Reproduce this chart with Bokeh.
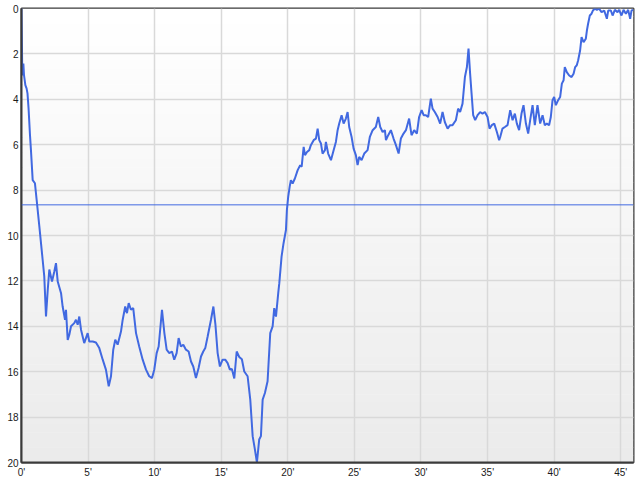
from bokeh.plotting import figure
from bokeh.models import Range1d, FixedTicker, PrintfTickFormatter, Span
from bokeh.embed import file_html
from bokeh.resources import INLINE

# elapsed time in minutes
minutes = [
    0.00, 0.06, 0.14, 0.19, 0.29, 0.38, 0.45, 0.53, 0.64, 0.71, 0.84, 1.01, 1.14, 1.34, 1.59, 1.71,
    1.84, 1.97, 2.09, 2.29, 2.46, 2.59, 2.72, 2.97, 3.09, 3.27, 3.34, 3.47, 3.59, 3.72, 3.96, 4.09,
    4.22, 4.34, 4.47, 4.71, 4.97, 5.09, 5.35, 5.59, 5.84, 6.10, 6.34, 6.55, 6.72, 6.89, 7.04, 7.22,
    7.47, 7.60, 7.79, 7.92, 8.05, 8.22, 8.39, 8.60, 8.84, 9.10, 9.35, 9.59, 9.80, 9.97, 10.15, 10.30,
    10.55, 10.73, 10.90, 11.10, 11.30, 11.47, 11.65, 11.80, 11.97, 12.15, 12.35, 12.55, 12.73, 12.90,
    13.10, 13.30, 13.48, 13.65, 13.80, 13.98, 14.23, 14.41, 14.56, 14.73, 14.90, 15.10, 15.30, 15.48,
    15.65, 15.80, 15.98, 16.16, 16.35, 16.55, 16.73, 16.98, 17.18, 17.36, 17.53, 17.68, 17.85, 17.98,
    18.11, 18.28, 18.48, 18.68, 18.86, 18.98, 19.11, 19.28, 19.36, 19.53, 19.68, 19.86, 19.93, 20.03,
    20.14, 20.23, 20.36, 20.53, 20.74, 20.93, 21.04, 21.19, 21.29, 21.44, 21.61, 21.73, 21.94, 22.11,
    22.24, 22.36, 22.49, 22.61, 22.79, 22.86, 23.03, 23.24, 23.44, 23.61, 23.74, 23.86, 24.04, 24.19,
    24.36, 24.49, 24.61, 24.79, 24.94, 25.11, 25.24, 25.36, 25.54, 25.74, 25.99, 26.16, 26.37, 26.61,
    26.79, 26.94, 27.12, 27.29, 27.37, 27.54, 27.74, 27.94, 28.12, 28.32, 28.49, 28.69, 28.87, 29.11,
    29.29, 29.49, 29.69, 29.86, 30.05, 30.20, 30.37, 30.54, 30.74, 30.87, 31.04, 31.25, 31.44, 31.62,
    31.79, 32.00, 32.19, 32.37, 32.62, 32.79, 32.94, 33.12, 33.30, 33.45, 33.57, 33.69, 33.80, 33.92,
    34.07, 34.25, 34.44, 34.62, 34.80, 35.00, 35.15, 35.32, 35.50, 35.70, 35.87, 35.95, 36.12, 36.30,
    36.50, 36.70, 36.88, 37.05, 37.20, 37.37, 37.55, 37.70, 37.88, 38.05, 38.20, 38.38, 38.55, 38.75,
    38.95, 39.13, 39.30, 39.45, 39.62, 39.75, 39.88, 40.00, 40.13, 40.30, 40.45, 40.58, 40.71, 40.80,
    40.95, 41.13, 41.31, 41.46, 41.58, 41.70, 41.80, 41.95, 42.06, 42.21, 42.38, 42.46, 42.55, 42.68,
    42.81, 42.91, 43.06, 43.21, 43.38, 43.56, 43.76, 43.96, 44.06, 44.26, 44.39, 44.56, 44.76, 44.88,
    45.06, 45.21, 45.39, 45.56, 45.71, 45.81, 45.96,
]

# value (axis reversed: 0 at top)
values = [
    0.00, 2.95, 2.42, 2.95, 3.38, 3.52, 3.74, 4.40, 5.60, 6.24, 7.56, 7.70, 8.44, 9.60, 11.08, 11.80,
    13.57, 12.40, 11.50, 12.03, 11.60, 11.22, 12.03, 12.54, 13.13, 13.71, 13.27, 14.60, 14.37, 14.00, 13.86, 13.71,
    13.93, 13.57, 14.15, 14.74, 14.30, 14.67, 14.67, 14.71, 14.96, 15.47, 15.91, 16.64, 16.20, 15.03, 14.59, 14.81,
    14.23, 13.71, 13.13, 13.42, 12.98, 13.27, 13.20, 14.30, 14.89, 15.47, 15.91, 16.20, 16.28, 15.91, 15.18, 14.89,
    13.27, 14.30, 15.03, 15.18, 15.11, 15.47, 15.18, 14.52, 14.89, 14.81, 15.03, 15.11, 15.55, 15.77,
    16.28, 15.84, 15.33, 15.11, 14.96, 14.45, 13.71, 13.13, 13.90, 15.18, 15.77, 15.47, 15.47, 15.62,
    15.91, 15.88, 16.30, 15.11, 15.35, 15.45, 15.99, 16.20, 17.23, 18.84, 19.43, 20.00, 18.99, 18.84,
    17.23, 16.94, 16.42, 14.30, 14.00, 13.20, 13.57, 12.54, 12.10, 10.93, 10.34, 9.76, 8.88, 8.29,
    7.85, 7.56, 7.71, 7.49, 7.12, 6.90, 6.97, 6.10, 6.46, 6.32, 6.24, 6.02, 5.80, 5.73,
    5.29, 5.80, 5.95, 6.39, 6.24, 5.88, 6.39, 6.68, 6.24, 5.88, 5.36, 5.07, 4.70, 5.07,
    4.85, 4.56, 5.22, 5.66, 6.17, 6.46, 6.90, 6.54, 6.68, 6.39, 6.24, 5.66, 5.36, 5.22,
    4.78, 5.22, 5.44, 5.36, 5.80, 5.58, 5.36, 5.73, 6.02, 6.39, 5.73, 5.51, 5.36, 4.85,
    5.58, 5.36, 5.51, 4.78, 4.48, 4.70, 4.70, 4.78, 3.97, 4.41, 4.56, 4.78, 5.07, 4.56,
    5.00, 5.29, 5.14, 5.14, 4.92, 4.41, 4.56, 4.19, 3.02, 2.58, 1.77, 2.87, 3.75, 4.70,
    4.92, 4.70, 4.56, 4.63, 4.56, 4.78, 5.29, 5.14, 5.07, 5.44, 5.80, 5.66, 5.29, 5.22,
    5.14, 4.48, 4.92, 4.63, 5.07, 5.36, 4.63, 4.26, 5.07, 5.51, 4.92, 4.26, 5.14, 4.26,
    5.07, 4.70, 5.14, 5.07, 5.14, 4.78, 4.04, 3.90, 4.26, 4.04, 3.90, 3.31, 3.16, 2.58,
    2.80, 2.95, 3.02, 2.87, 2.58, 2.50, 2.29, 1.85, 1.26, 1.48, 1.33, 0.97, 0.67, 0.31,
    0.23, 0.09, 0.01, 0.06, 0.01, 0.16, 0.09, 0.45, 0.09, 0.09, 0.31, 0.06, 0.16, 0.06,
    0.31, 0.06, 0.23, 0.06, 0.45, 0.09, 0.06,
]

mean_value = 8.65
x_ticks = [0, 5, 10, 15, 20, 25, 30, 35, 40, 45]
y_ticks = [0, 2, 4, 6, 8, 10, 12, 14, 16, 18, 20]

x_end = minutes[-1]
p = figure(width=640, height=480, output_backend="svg", toolbar_location=None,
           x_range=Range1d(0, x_end), y_range=Range1d(20, 0),
           min_border_left=21, min_border_right=7, min_border_top=8, min_border_bottom=17,
           background_fill_color="white", border_fill_color="white")

# vertical background gradient (white -> light grey)
n_bands = 60
bt, bb, bc = [], [], []
for i in range(n_bands):
    t = i / (n_bands - 1)
    g = int(round(255 - t * (255 - 235)))
    bt.append(20 * i / n_bands)
    bb.append(min(20, 20 * (i + 1) / n_bands + 0.02))
    bc.append("#%02x%02x%02x" % (g, g, g))
p.quad(left=0, right=x_end, top=bt, bottom=bb, fill_color=bc, line_color=None, level="image")

p.line(minutes, values, line_color="#4169E1", line_width=2)
p.add_layout(Span(location=mean_value, dimension="width", line_color="#4169E1", line_width=1))

p.outline_line_color = "#3a3a3a"
p.outline_line_width = 2
p.outline_line_alpha = 1

for ax in (p.xaxis[0], p.yaxis[0]):
    ax.axis_line_color = "#3a3a3a"
    ax.axis_line_width = 2
    ax.major_tick_in = 0
    ax.major_tick_out = 0
    ax.minor_tick_in = 0
    ax.minor_tick_out = 0
    ax.major_label_text_font = "Liberation Sans"
    ax.major_label_text_font_size = "10px"
    ax.major_label_text_color = "#1a1a1a"

p.xaxis.ticker = FixedTicker(ticks=x_ticks)
p.xaxis.formatter = PrintfTickFormatter(format="%d'")
p.xaxis.major_label_standoff = 4
p.yaxis.ticker = FixedTicker(ticks=y_ticks)
p.yaxis.major_label_standoff = 3

p.xgrid.ticker = FixedTicker(ticks=x_ticks)
p.ygrid.ticker = FixedTicker(ticks=y_ticks)
p.grid.grid_line_color = "#d9d9d9"
p.grid.grid_line_width = 1.5

open("out.html", "w").write(file_html(p, INLINE))
